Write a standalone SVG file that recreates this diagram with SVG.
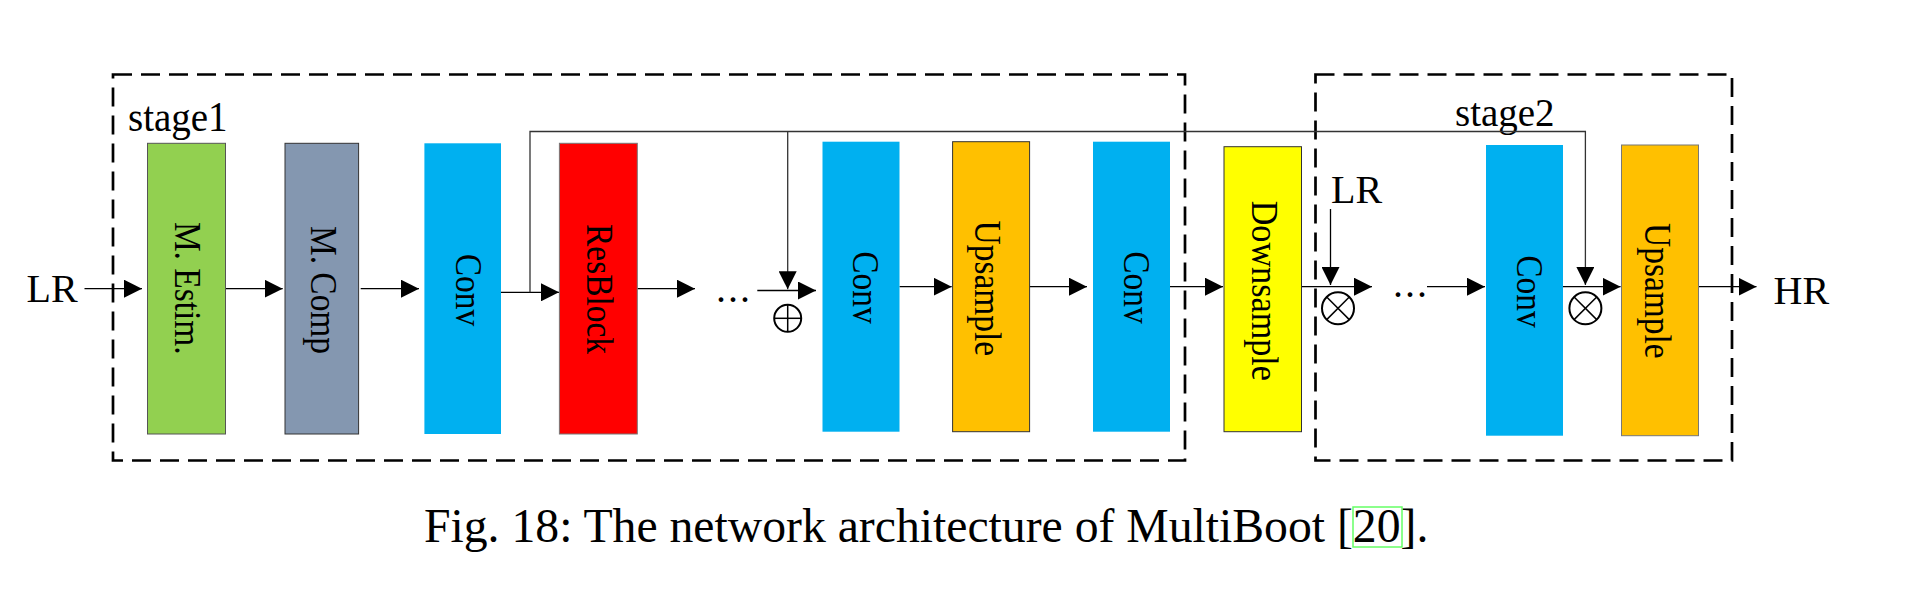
<svg xmlns="http://www.w3.org/2000/svg" width="1910" height="598" viewBox="0 0 1910 598">
<style>
.t{font-family:"Liberation Serif","Times New Roman",serif;fill:#000}
.lbl{font-size:40px}
.stg{font-size:39px}
.bx{font-size:38px}
.ln{stroke:#000;stroke-width:1.3;fill:none}
.sk{stroke:#333;stroke-width:1.3;fill:none}
.dash{stroke:#000;stroke-width:2.7;fill:none;stroke-dasharray:19 9}
.op{stroke:#000;stroke-width:2;fill:none}
.opx{stroke:#000;stroke-width:1.5}
</style>
<defs>
<marker id="ah" viewBox="0 0 18 18" refX="18" refY="9" markerWidth="18" markerHeight="18" markerUnits="userSpaceOnUse" orient="auto">
<path d="M0,0 L18,9 L0,18 z" fill="#000"/>
</marker>
</defs>
<rect width="1910" height="598" fill="#fff"/>
<g id="stage1-frame">
<rect class="dash" x="113" y="74.5" width="1072" height="386"/>
<text class="t stg" transform="translate(128,131) scale(1,1.08)">stage1</text>
</g>
<g id="stage2-frame">
<rect class="dash" x="1315.5" y="74.5" width="416.5" height="386"/>
<text class="t stg" transform="translate(1455,126) scale(1,1.04)">stage2</text>
</g>
<g id="connectors">
<line class="ln" x1="84.5" y1="288.7" x2="142" y2="288.7" marker-end="url(#ah)"/>
<line class="ln" x1="225.5" y1="288.7" x2="282.7" y2="288.7" marker-end="url(#ah)"/>
<line class="ln" x1="360.7" y1="288.7" x2="419" y2="288.7" marker-end="url(#ah)"/>
<line class="ln" x1="501" y1="292.3" x2="559" y2="292.3" marker-end="url(#ah)"/>
<line class="ln" x1="637.3" y1="288.7" x2="695" y2="288.7" marker-end="url(#ah)"/>
<line class="ln" x1="757.3" y1="290.5" x2="816" y2="290.5" marker-end="url(#ah)"/>
<polyline class="sk" points="530,292.3 530,131.5 1585.4,131.5 1585.4,285" marker-end="url(#ah)"/>
<line class="sk" x1="787.7" y1="131.5" x2="787.7" y2="289.3" marker-end="url(#ah)"/>
<line class="ln" x1="899.5" y1="286.7" x2="951.7" y2="286.7" marker-end="url(#ah)"/>
<line class="ln" x1="1029.6" y1="286.7" x2="1087" y2="286.7" marker-end="url(#ah)"/>
<line class="ln" x1="1170" y1="286.7" x2="1223" y2="286.7" marker-end="url(#ah)"/>
<line class="ln" x1="1301.5" y1="286.7" x2="1372" y2="286.7" marker-end="url(#ah)"/>
<line class="ln" x1="1330.5" y1="209" x2="1330.5" y2="285" marker-end="url(#ah)"/>
<line class="ln" x1="1427" y1="286.7" x2="1485" y2="286.7" marker-end="url(#ah)"/>
<line class="ln" x1="1563" y1="286.7" x2="1620.6" y2="286.7" marker-end="url(#ah)"/>
<line class="ln" x1="1698.5" y1="286.7" x2="1756.5" y2="286.7" marker-end="url(#ah)"/>
</g>
<g id="lr-in"><text class="t lbl" x="26.5" y="301.7">LR</text></g>
<g id="lr-stage2"><text class="t lbl" x="1331" y="202.7">LR</text></g>
<g id="hr-out"><text class="t lbl" x="1773.5" y="304">HR</text></g>
<g id="m-estim">
<rect x="147.5" y="143.3" width="78" height="290.7" fill="#92D050" stroke="#555" stroke-width="1"/>
<text class="t bx" text-anchor="middle" transform="translate(187.5,288.3) rotate(90) scale(0.88,1)" y="12.6">M. Estim.</text>
</g>
<g id="m-comp">
<rect x="285" y="143.3" width="73.6" height="290.7" fill="#8497B0" stroke="#333" stroke-width="1"/>
<text class="t bx" text-anchor="middle" transform="translate(323.3,290) rotate(90) scale(0.88,1)" y="12.6">M. Comp</text>
</g>
<g id="conv1">
<rect x="424.4" y="143.3" width="76.6" height="290.7" fill="#00B0F0"/>
<text class="t bx" text-anchor="middle" transform="translate(468.2,290) rotate(90) scale(0.88,1)" y="12.6">Conv</text>
</g>
<g id="resblock">
<rect x="559.4" y="143.3" width="77.9" height="290.7" fill="#FF0000" stroke="#777" stroke-width="1"/>
<text class="t bx" text-anchor="middle" transform="translate(599.8,289) rotate(90) scale(0.88,1)" y="12.6">ResBlock</text>
</g>
<g id="dots1">
<text class="t lbl" x="716" y="301.7" letter-spacing="2">...</text>
</g>
<g id="oplus">
<circle class="op" cx="787.7" cy="318.3" r="13.5"/>
<line class="opx" x1="774.2" y1="318.3" x2="801.2" y2="318.3"/>
<line class="opx" x1="787.7" y1="304.8" x2="787.7" y2="331.8"/>
</g>
<g id="conv2">
<rect x="822.5" y="141.7" width="77" height="290" fill="#00B0F0"/>
<text class="t bx" text-anchor="middle" transform="translate(866,287.5) rotate(90) scale(0.88,1)" y="12.6">Conv</text>
</g>
<g id="upsample1">
<rect x="952.6" y="141.7" width="77" height="290" fill="#FFC000" stroke="#333" stroke-width="1"/>
<text class="t bx" text-anchor="middle" transform="translate(988,288.3) rotate(90) scale(0.88,1)" y="12.6">Upsample</text>
</g>
<g id="conv3">
<rect x="1093" y="141.7" width="77" height="290" fill="#00B0F0"/>
<text class="t bx" text-anchor="middle" transform="translate(1136.4,287.5) rotate(90) scale(0.88,1)" y="12.6">Conv</text>
</g>
<g id="downsample">
<rect x="1224" y="146.7" width="77.5" height="285" fill="#FFFF00" stroke="#333" stroke-width="1"/>
<text class="t bx" text-anchor="middle" transform="translate(1265,290.8) rotate(90) scale(0.9,1)" y="12.6">Downsample</text>
</g>
<g id="otimes1">
<circle class="op" cx="1338" cy="308.3" r="16"/>
<line class="opx" x1="1326.7" y1="297" x2="1349.3" y2="319.6"/>
<line class="opx" x1="1349.3" y1="297" x2="1326.7" y2="319.6"/>
</g>
<g id="dots2">
<text class="t lbl" x="1393" y="297.3" letter-spacing="2">...</text>
</g>
<g id="conv4">
<rect x="1486" y="145" width="77" height="290.7" fill="#00B0F0"/>
<text class="t bx" text-anchor="middle" transform="translate(1530,291.5) rotate(90) scale(0.88,1)" y="12.6">Conv</text>
</g>
<g id="otimes2">
<circle class="op" cx="1585.4" cy="308.3" r="16"/>
<line class="opx" x1="1574.1" y1="297" x2="1596.7" y2="319.6"/>
<line class="opx" x1="1596.7" y1="297" x2="1574.1" y2="319.6"/>
</g>
<g id="upsample2">
<rect x="1621.5" y="145" width="77" height="290.7" fill="#FFC000" stroke="#777" stroke-width="1"/>
<text class="t bx" text-anchor="middle" transform="translate(1658,290.8) rotate(90) scale(0.88,1)" y="12.6">Upsample</text>
</g>
<g id="caption">
<text class="t" x="424" y="542" font-size="47.7">Fig. 18: The network architecture of MultiBoot [20].</text>
<rect x="1353" y="507" width="49" height="40" fill="none" stroke="#66FF66" stroke-width="1.5"/>
</g>
</svg>
